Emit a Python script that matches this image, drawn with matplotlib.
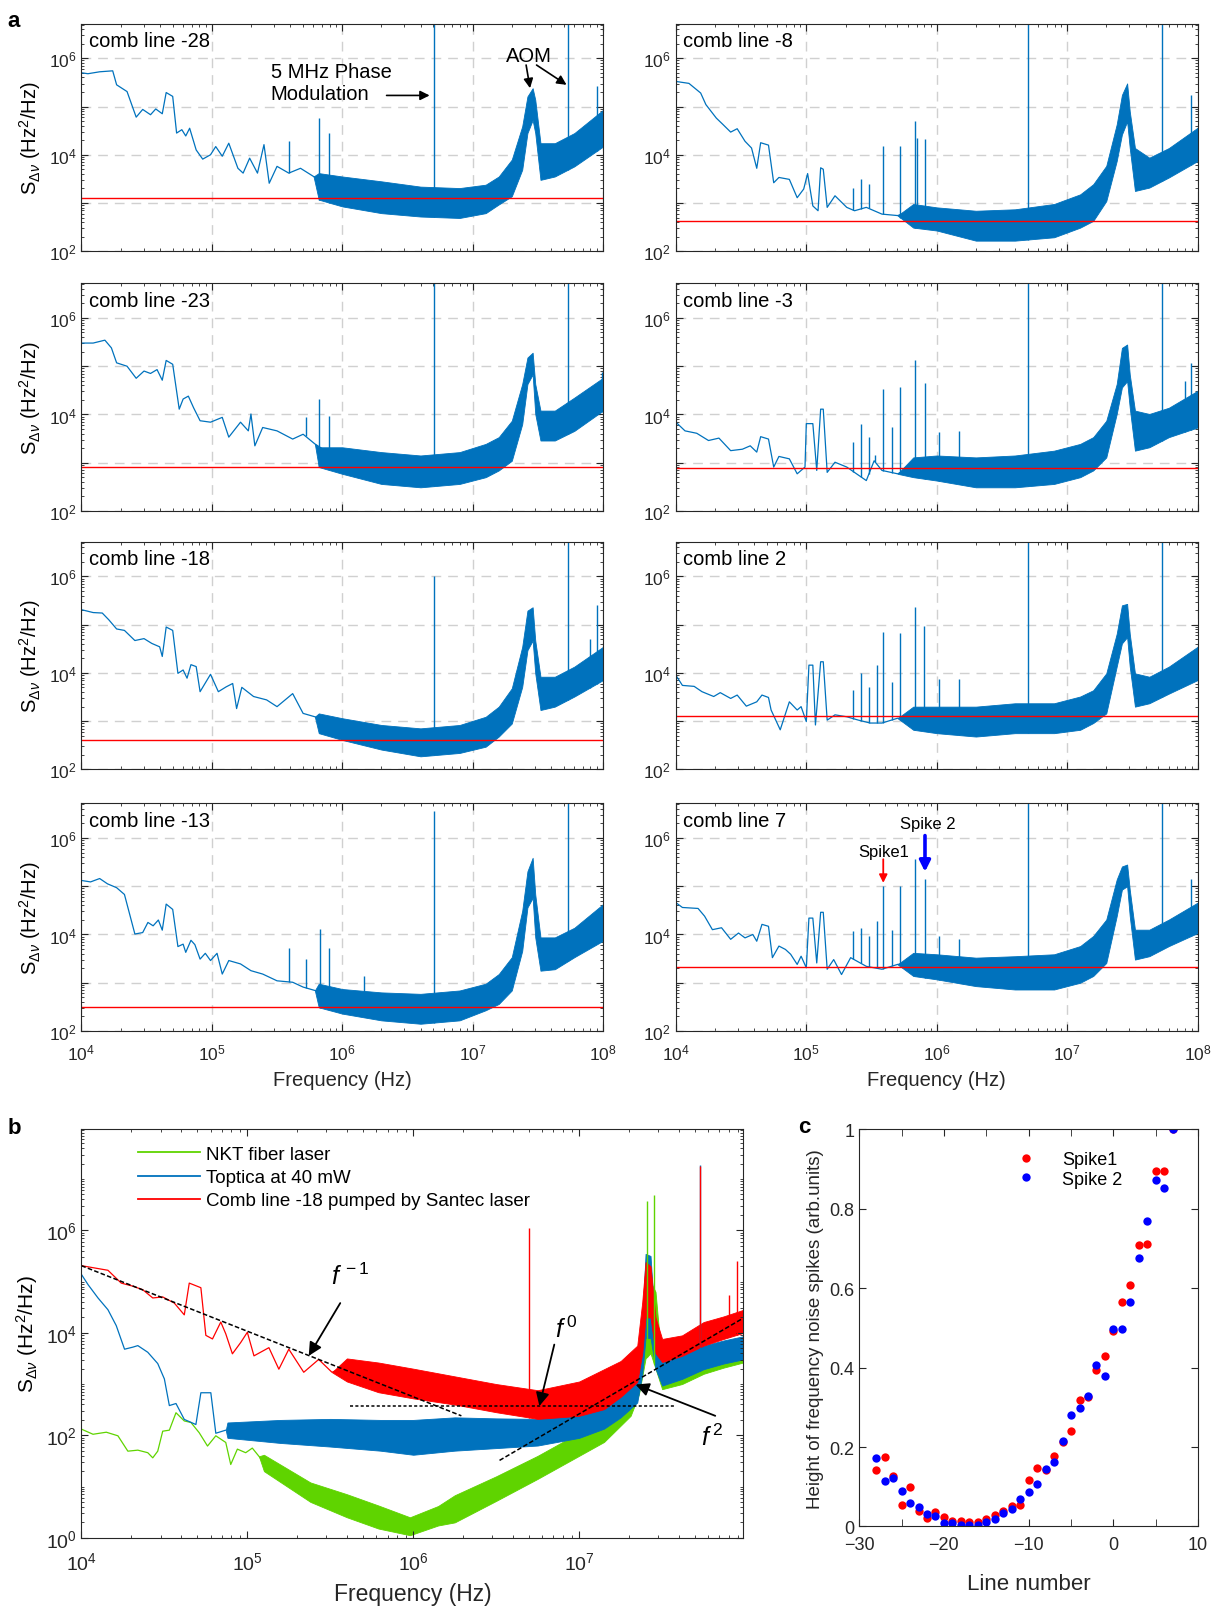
import matplotlib
matplotlib.use('Agg')
import matplotlib.pyplot as plt
import numpy as np
from matplotlib.ticker import LogLocator, FuncFormatter, NullFormatter, FixedLocator, MultipleLocator
from matplotlib.lines import Line2D

plt.rcParams['font.family'] = ['Liberation Sans', 'DejaVu Sans']
plt.rcParams['mathtext.fontset'] = 'custom'
plt.rcParams['mathtext.rm'] = 'Liberation Sans'
plt.rcParams['mathtext.it'] = 'Liberation Sans:italic'
plt.rcParams['mathtext.bf'] = 'Liberation Sans:bold'
plt.rcParams['xtick.direction'] = 'in'
plt.rcParams['ytick.direction'] = 'in'
plt.rcParams['xtick.top'] = True
plt.rcParams['ytick.right'] = True

MBLUE = '#0072BD'
AXCOL = '#262626'

# ---- panel a: all values are log10(frequency) / log10(S) ----
# shared frequency grid for the dense (noise band) part
band_logf = [5.82, 6.0, 6.3, 6.6, 6.9, 7.1, 7.2, 7.3, 7.38, 7.42, 7.46, 7.48, 7.52, 7.63, 7.78, 8.0]

# comb line -28
m28_logf = [4.00, 4.05, 4.14, 4.24, 4.27, 4.35, 4.42, 4.47, 4.53, 4.57, 4.62, 4.65, 4.70, 4.73, 4.77, 4.80, 4.83,
            4.88, 4.93, 4.99, 5.03, 5.08, 5.13, 5.20, 5.24, 5.29, 5.35, 5.40, 5.44, 5.50, 5.59, 5.68, 5.78, 5.84]
m28_logs = [5.70, 5.68, 5.72, 5.74, 5.45, 5.31, 4.78, 4.94, 4.83, 4.95, 4.85, 5.29, 5.21, 4.45, 4.52, 4.39, 4.55,
            4.10, 3.91, 4.00, 4.17, 3.97, 4.24, 3.72, 3.62, 3.93, 3.62, 4.21, 3.41, 3.76, 3.62, 3.72, 3.55, 3.48]
m28_hi = [3.62, 3.55, 3.45, 3.34, 3.31, 3.38, 3.55, 3.90, 4.59, 5.21, 5.38, 5.14, 4.24, 4.24, 4.45, 4.93]
m28_lo = [3.07, 2.93, 2.79, 2.72, 2.69, 2.79, 2.97, 3.14, 3.69, 4.45, 4.72, 4.45, 3.48, 3.55, 3.76, 4.17]
m28_spk_f = [5.59, 5.82, 5.90, 6.70, 7.73, 7.95]
m28_spk_s = [4.28, 4.76, 4.45, 7.0, 7.0, 5.43]
m28_red = 3.10

# comb line -8
m8_logf = [4.00, 4.10, 4.19, 4.23, 4.31, 4.36, 4.42, 4.47, 4.53, 4.58, 4.62, 4.65, 4.71, 4.75, 4.79, 4.87,
           4.93, 4.98, 5.01, 5.05, 5.09, 5.11, 5.13, 5.16, 5.22, 5.31, 5.37, 5.46, 5.58, 5.70, 5.82]
m8_logs = [5.52, 5.48, 5.28, 5.04, 4.76, 4.63, 4.47, 4.54, 4.28, 4.14, 3.72, 4.25, 4.20, 3.42, 3.53, 3.49,
           3.11, 3.29, 3.61, 2.94, 2.84, 3.73, 3.70, 2.91, 3.15, 2.91, 2.84, 2.91, 2.77, 2.74, 2.84]
m8_hi = [2.98, 2.91, 2.84, 2.87, 2.98, 3.18, 3.39, 3.77, 4.63, 5.24, 5.48, 4.90, 4.14, 3.94, 4.14, 4.56]
m8_lo = [2.49, 2.43, 2.22, 2.22, 2.29, 2.49, 2.63, 3.04, 3.87, 4.42, 4.69, 4.14, 3.25, 3.32, 3.53, 3.87]
m8_spk_f = [5.36, 5.42, 5.48, 5.59, 5.72, 5.83, 5.85, 5.91, 6.70, 7.73, 7.95]
m8_spk_s = [3.32, 3.49, 3.40, 4.18, 4.19, 4.71, 4.35, 4.32, 7.0, 7.0, 5.24]
m8_red = 2.62

# comb line -23
m23_logf = [4.00, 4.09, 4.18, 4.23, 4.27, 4.35, 4.42, 4.48, 4.53, 4.58, 4.62, 4.65, 4.70, 4.75, 4.78, 4.82,
            4.86, 4.91, 4.99, 5.08, 5.13, 5.22, 5.28, 5.30, 5.33, 5.39, 5.50, 5.62, 5.70, 5.79, 5.87, 5.96]
m23_logs = [5.48, 5.48, 5.54, 5.38, 5.07, 5.00, 4.75, 4.90, 4.85, 4.93, 4.71, 5.12, 5.04, 4.11, 4.32, 4.38,
            4.14, 3.87, 3.84, 3.94, 3.53, 3.84, 3.66, 4.01, 3.35, 3.73, 3.66, 3.49, 3.59, 3.39, 3.25, 3.04]
m23_hi = [3.32, 3.32, 3.22, 3.15, 3.22, 3.39, 3.53, 3.87, 4.63, 5.18, 5.28, 4.63, 4.08, 4.08, 4.35, 4.76]
m23_lo = [2.91, 2.77, 2.56, 2.49, 2.56, 2.70, 2.84, 3.04, 3.80, 4.63, 4.83, 4.01, 3.46, 3.46, 3.66, 4.08]
m23_spk_f = [5.72, 5.82, 5.90, 6.70, 7.73, 7.99]
m23_spk_s = [3.95, 4.33, 3.97, 7.0, 7.0, 4.87]
m23_red = 2.91

# comb line -3
m3_logf = [4.00, 4.07, 4.16, 4.25, 4.33, 4.42, 4.51, 4.57, 4.62, 4.65, 4.71, 4.75, 4.79, 4.87, 4.93,
           4.99, 5.00, 5.05, 5.08, 5.11, 5.13, 5.16, 5.22, 5.31, 5.46, 5.52, 5.58, 5.70, 5.82]
m3_logs = [3.84, 3.66, 3.61, 3.46, 3.51, 3.25, 3.28, 3.35, 3.22, 3.54, 3.49, 2.91, 3.13, 3.08, 2.77,
           2.91, 3.81, 3.81, 2.84, 4.11, 4.11, 2.80, 3.01, 2.91, 2.63, 3.04, 2.84, 2.77, 2.91]
m3_hi = [3.11, 3.15, 3.11, 3.15, 3.25, 3.39, 3.53, 3.87, 4.63, 5.38, 5.45, 4.83, 4.08, 4.01, 4.14, 4.49]
m3_lo = [2.70, 2.63, 2.49, 2.49, 2.56, 2.70, 2.84, 3.11, 4.01, 4.56, 4.69, 4.14, 3.25, 3.32, 3.53, 3.73]
m3_spk_f = [5.36, 5.42, 5.48, 5.53, 5.59, 5.66, 5.72, 5.83, 5.91, 6.02, 6.17, 6.70, 7.73, 7.90, 7.95]
m3_spk_s = [3.42, 3.80, 3.53, 3.15, 4.52, 3.73, 4.56, 5.12, 4.66, 3.63, 3.66, 7.0, 7.0, 4.69, 5.07]
m3_red = 2.89

# comb line -18
m18_logf = [4.00, 4.09, 4.16, 4.21, 4.27, 4.33, 4.41, 4.48, 4.54, 4.60, 4.62, 4.65, 4.70, 4.74, 4.78, 4.81, 4.84,
            4.88, 4.91, 4.95, 4.99, 5.05, 5.11, 5.16, 5.19, 5.23, 5.32, 5.42, 5.50, 5.62, 5.70, 5.79, 5.87, 5.96]
m18_logs = [5.31, 5.25, 5.24, 5.10, 4.91, 4.88, 4.67, 4.71, 4.61, 4.54, 4.34, 4.95, 4.88, 3.99, 4.06, 3.89, 4.17,
            4.13, 3.61, 3.79, 3.97, 3.61, 3.71, 3.78, 3.26, 3.70, 3.51, 3.44, 3.30, 3.57, 3.16, 3.09, 3.02, 2.92]
m18_hi = [3.16, 3.06, 2.92, 2.85, 2.92, 3.09, 3.30, 3.68, 4.54, 5.29, 5.36, 4.67, 3.92, 3.92, 4.13, 4.54]
m18_lo = [2.75, 2.61, 2.41, 2.27, 2.34, 2.47, 2.68, 2.95, 3.71, 4.47, 4.67, 3.99, 3.23, 3.30, 3.51, 3.85]
m18_spk_f = [6.70, 7.73, 7.90, 7.95]
m18_spk_s = [6.0, 7.0, 4.71, 5.40]
m18_red = 2.60

# comb line 2
p2_logf = [4.00, 4.05, 4.14, 4.20, 4.29, 4.34, 4.42, 4.47, 4.54, 4.62, 4.66, 4.71, 4.73, 4.80, 4.87, 4.93,
           4.96, 5.00, 5.02, 5.05, 5.07, 5.11, 5.13, 5.16, 5.22, 5.31, 5.40, 5.49, 5.58, 5.70, 5.82]
p2_logs = [3.95, 3.74, 3.72, 3.61, 3.51, 3.59, 3.47, 3.54, 3.31, 3.40, 3.54, 3.49, 3.23, 2.82, 3.40, 3.23,
           3.30, 2.99, 4.16, 4.16, 2.92, 4.23, 4.23, 3.02, 3.13, 3.09, 3.02, 2.96, 2.96, 3.06, 3.02]
p2_hi = [3.30, 3.30, 3.30, 3.37, 3.37, 3.51, 3.64, 3.99, 4.81, 5.40, 5.43, 4.81, 3.99, 3.92, 4.13, 4.54]
p2_lo = [2.82, 2.75, 2.68, 2.75, 2.75, 2.82, 2.96, 3.16, 4.13, 4.61, 4.74, 4.13, 3.30, 3.37, 3.57, 3.85]
p2_spk_f = [5.36, 5.42, 5.48, 5.54, 5.59, 5.66, 5.72, 5.83, 5.90, 6.02, 6.17, 6.70, 7.73]
p2_spk_s = [3.64, 4.00, 3.71, 4.16, 4.85, 3.81, 4.82, 5.37, 4.98, 3.88, 3.88, 7.0, 7.0]
p2_red = 3.11

# comb line -13
m13_logf = [4.00, 4.07, 4.14, 4.20, 4.27, 4.33, 4.37, 4.41, 4.47, 4.51, 4.55, 4.59, 4.62, 4.65, 4.70, 4.74, 4.78,
            4.80, 4.84, 4.87, 4.91, 4.95, 4.99, 5.04, 5.08, 5.13, 5.22, 5.30, 5.39, 5.50, 5.62, 5.70, 5.79, 5.87]
m13_logs = [5.12, 5.09, 5.16, 5.05, 4.97, 4.83, 4.42, 4.01, 4.04, 4.25, 4.18, 4.30, 4.09, 4.63, 4.52, 3.75, 3.80,
            3.63, 3.88, 3.79, 3.49, 3.61, 3.46, 3.61, 3.18, 3.46, 3.39, 3.25, 3.18, 3.04, 3.01, 2.91, 2.84, 2.77]
m13_hi = [2.98, 2.87, 2.80, 2.77, 2.84, 2.98, 3.18, 3.53, 4.49, 5.31, 5.59, 4.83, 3.94, 3.94, 4.14, 4.63]
m13_lo = [2.49, 2.36, 2.22, 2.15, 2.22, 2.43, 2.56, 2.84, 3.66, 4.56, 4.76, 3.94, 3.25, 3.28, 3.53, 3.87]
m13_spk_f = [5.59, 5.72, 5.83, 5.90, 6.17, 6.70, 7.73]
m13_spk_s = [3.72, 3.49, 4.11, 3.72, 3.15, 6.56, 7.0]
m13_red = 2.49

# comb line 7
p7_logf = [4.00, 4.05, 4.17, 4.22, 4.28, 4.35, 4.42, 4.48, 4.53, 4.59, 4.62, 4.66, 4.71, 4.74, 4.79, 4.84, 4.88,
           4.93, 4.96, 5.00, 5.02, 5.05, 5.08, 5.11, 5.13, 5.16, 5.21, 5.27, 5.34, 5.46, 5.58, 5.70, 5.82]
p7_logs = [4.66, 4.56, 4.54, 4.38, 4.10, 4.14, 3.90, 4.03, 3.93, 4.00, 3.86, 4.21, 4.17, 3.52, 3.76, 3.69, 3.59,
           3.38, 3.55, 3.31, 4.34, 4.34, 3.41, 4.46, 4.46, 3.28, 3.48, 3.17, 3.52, 3.34, 3.28, 3.38, 3.41]
p7_hi = [3.62, 3.59, 3.52, 3.55, 3.59, 3.76, 3.97, 4.31, 5.14, 5.41, 5.45, 4.93, 4.10, 4.10, 4.31, 4.66]
p7_lo = [3.14, 3.07, 2.93, 2.86, 2.86, 3.00, 3.14, 3.41, 4.38, 4.93, 5.00, 4.38, 3.48, 3.55, 3.76, 4.03]
p7_spk_f = [5.36, 5.42, 5.48, 5.54, 5.59, 5.66, 5.72, 5.83, 5.91, 6.02, 6.17, 6.70, 7.73, 7.95]
p7_spk_s = [4.07, 4.14, 3.97, 4.29, 5.00, 4.10, 5.01, 5.57, 5.15, 3.97, 3.90, 7.0, 7.0, 5.15]
p7_red = 3.32

# ---- panel b ----
green_logf = [4.00, 4.07, 4.15, 4.22, 4.28, 4.34, 4.40, 4.43, 4.46, 4.49, 4.53, 4.57, 4.62, 4.66, 4.71,
              4.76, 4.81, 4.87, 4.90, 4.94, 4.99, 5.03, 5.07, 5.10]
green_logs = [2.12, 2.02, 2.06, 1.99, 1.69, 1.71, 1.66, 1.56, 1.69, 2.08, 2.10, 2.44, 2.28, 2.25, 2.05,
              1.79, 1.99, 1.86, 1.43, 1.73, 1.66, 1.75, 1.59, 1.46]
green_band_f = [5.10, 5.38, 5.6, 5.79, 5.98, 6.15, 6.25, 6.5, 6.75, 7.0, 7.15, 7.31, 7.36, 7.40, 7.43,
                7.46, 7.50, 7.62, 7.75, 7.87, 8.0]
green_hi = [1.62, 1.08, 0.85, 0.63, 0.40, 0.62, 0.83, 1.20, 1.60, 2.05, 2.32, 2.71, 3.6, 5.2, 5.0,
            4.8, 3.35, 3.3, 3.5, 3.62, 3.75]
green_lo = [1.30, 0.70, 0.40, 0.18, 0.05, 0.24, 0.30, 0.72, 1.15, 1.60, 1.87, 2.38, 2.8, 3.5, 3.6,
            3.3, 2.90, 3.0, 3.2, 3.32, 3.43]
green_spk_f = [7.41, 7.45]
green_spk_s = [6.58, 6.69]

blue_logf = [4.00, 4.04, 4.10, 4.16, 4.21, 4.26, 4.31, 4.34, 4.40, 4.46, 4.50, 4.53, 4.57, 4.62, 4.69, 4.72,
             4.78, 4.81, 4.87]
blue_logs = [5.14, 4.94, 4.68, 4.45, 4.14, 3.68, 3.72, 3.75, 3.62, 3.40, 3.10, 2.58, 2.62, 2.31, 2.21, 2.83,
             2.83, 2.04, 2.10]
blue_band_f = [4.88, 5.2, 5.5, 5.8, 6.0, 6.25, 6.5, 6.75, 7.0, 7.15, 7.25, 7.35, 7.38, 7.40, 7.43,
               7.46, 7.50, 7.62, 7.75, 7.87, 8.0]
blue_hi = [2.25, 2.30, 2.32, 2.30, 2.30, 2.35, 2.33, 2.32, 2.45, 2.64, 2.85, 3.10, 4.2, 5.54, 5.5,
           4.0, 3.43, 3.55, 3.75, 3.85, 3.94]
blue_lo = [1.95, 1.85, 1.78, 1.70, 1.62, 1.70, 1.75, 1.80, 1.95, 2.13, 2.35, 2.64, 3.2, 3.9, 3.9,
           3.3, 2.97, 3.10, 3.29, 3.40, 3.49]
blue_spk_f = [7.73]
blue_spk_s = [7.28]

red_logf = [4.00, 4.16, 4.24, 4.31, 4.37, 4.43, 4.49, 4.56, 4.62, 4.65, 4.72, 4.75, 4.79, 4.84, 4.87,
            4.91, 4.96, 5.00, 5.04, 5.13, 5.19, 5.25, 5.34, 5.43, 5.51, 5.60]
red_logs = [5.31, 5.22, 4.97, 4.91, 4.84, 4.68, 4.70, 4.58, 4.35, 4.97, 4.88, 3.95, 3.88, 4.21, 3.98,
            3.59, 3.81, 4.01, 3.55, 3.71, 3.29, 3.68, 3.23, 3.48, 3.23, 3.35]
red_band_f = [5.60, 5.79, 6.0, 6.25, 6.5, 6.75, 7.0, 7.15, 7.25, 7.35, 7.38, 7.40, 7.43, 7.46, 7.50,
              7.62, 7.75, 7.87, 8.0]
red_hi = [3.50, 3.42, 3.30, 3.15, 3.0, 2.88, 3.05, 3.29, 3.45, 3.75, 4.6, 5.38, 5.3, 4.3, 3.88,
          3.95, 4.21, 4.32, 4.46]
red_lo = [3.05, 2.84, 2.72, 2.60, 2.45, 2.32, 2.38, 2.51, 2.75, 3.04, 3.6, 4.3, 4.3, 3.6, 3.43,
          3.55, 3.75, 3.88, 4.01]
red_spk_f = [6.70, 7.73, 7.90, 7.95]
red_spk_s = [6.04, 7.26, 4.73, 5.41]

fm1_logf, fm1_logs = [4.0, 6.29], [5.31, 2.38]
f0_logf, f0_logs = [5.62, 7.57], [2.57, 2.57]
f2_logf, f2_logs = [6.52, 7.98], [1.51, 4.27]

# ---- panel c ----
line_number = list(range(-28, 8))
spike1 = [0.143, 0.174, 0.128, 0.053, 0.100, 0.040, 0.022, 0.036, 0.024, 0.013, 0.015, 0.010, 0.010, 0.019,
          0.029, 0.039, 0.052, 0.053, 0.117, 0.146, 0.141, 0.178, 0.213, 0.241, 0.318, 0.325, 0.393, 0.430,
          0.492, 0.565, 0.608, 0.708, 0.711, 0.894, 0.894, 1.0]
spike2 = [0.172, 0.114, 0.122, 0.089, 0.059, 0.049, 0.032, 0.027, 0.008, 0.008, 0.003, 0.004, 0.004, 0.012,
          0.019, 0.033, 0.045, 0.070, 0.087, 0.107, 0.144, 0.163, 0.215, 0.281, 0.298, 0.328, 0.406, 0.378,
          0.497, 0.498, 0.565, 0.677, 0.770, 0.873, 0.853, 1.0]


def p10(v):
    return np.power(10.0, np.asarray(v, dtype=float))


def even_dec(v, pos):
    e = int(round(np.log10(v)))
    return r'$\mathregular{10^{%d}}$' % e if e % 2 == 0 else ''


def style_axes(ax):
    for s in ax.spines.values():
        s.set_color(AXCOL)
        s.set_linewidth(0.8)
    ax.tick_params(which='both', colors=AXCOL)
    ax.tick_params(which='major', length=5)
    ax.tick_params(which='minor', length=2.5)


def spectrum_line(ax, lf, ls, bf, hi, lo, spf, sps, color, lw=0.9):
    lf, ls = np.asarray(lf), np.asarray(ls)
    bf, hi, lo = np.asarray(bf), np.asarray(hi), np.asarray(lo)
    # let the noise band grow out of the last thin-trace point before it
    before = lf < bf[0]
    if before.any():
        k = np.where(before)[0][-1]
        bf = np.r_[lf[k], bf]
        hi = np.r_[ls[k], hi]
        lo = np.r_[ls[k], lo]
    ax.fill_between(p10(bf), p10(lo), p10(hi), color=color, lw=0.6, edgecolor=color)
    ax.plot(p10(lf), p10(ls), color=color, lw=lw)
    spf = np.asarray(spf)
    base = np.where(spf < bf[0], np.interp(spf, lf, ls), np.interp(spf, bf, lo))
    ax.vlines(p10(spf), p10(base), p10(sps), color=color, lw=1.0)


fig = plt.figure(figsize=(12.26, 16.15), dpi=100)

left_x, right_x = 0.0664, 0.5513
row_b = [0.8438, 0.683, 0.523, 0.361]
aw, ah = 0.4255, 0.141

panels = [
    (left_x, 0, 'comb line -28', m28_logf, m28_logs, m28_hi, m28_lo, m28_spk_f, m28_spk_s, m28_red),
    (right_x, 0, 'comb line -8', m8_logf, m8_logs, m8_hi, m8_lo, m8_spk_f, m8_spk_s, m8_red),
    (left_x, 1, 'comb line -23', m23_logf, m23_logs, m23_hi, m23_lo, m23_spk_f, m23_spk_s, m23_red),
    (right_x, 1, 'comb line -3', m3_logf, m3_logs, m3_hi, m3_lo, m3_spk_f, m3_spk_s, m3_red),
    (left_x, 2, 'comb line -18', m18_logf, m18_logs, m18_hi, m18_lo, m18_spk_f, m18_spk_s, m18_red),
    (right_x, 2, 'comb line 2', p2_logf, p2_logs, p2_hi, p2_lo, p2_spk_f, p2_spk_s, p2_red),
    (left_x, 3, 'comb line -13', m13_logf, m13_logs, m13_hi, m13_lo, m13_spk_f, m13_spk_s, m13_red),
    (right_x, 3, 'comb line 7', p7_logf, p7_logs, p7_hi, p7_lo, p7_spk_f, p7_spk_s, p7_red),
]

axs = {}
for x0, row, name, lf, ls, hi, lo, spf, sps, red in panels:
    ax = fig.add_axes([x0, row_b[row], aw, ah])
    ax.set_xscale('log')
    ax.set_yscale('log')
    spectrum_line(ax, lf, ls, band_logf, hi, lo, spf, sps, MBLUE)
    ax.axhline(p10(red), color='red', lw=1.0)
    ax.set_xlim(1e4, 1e8)
    ax.set_ylim(1e2, p10(6.72))
    ax.xaxis.set_major_locator(FixedLocator([1e4, 1e5, 1e6, 1e7, 1e8]))
    ax.xaxis.set_minor_locator(LogLocator(base=10, subs=np.arange(2, 10), numticks=20))
    ax.yaxis.set_major_locator(FixedLocator([1e2, 1e3, 1e4, 1e5, 1e6]))
    ax.yaxis.set_minor_locator(LogLocator(base=10, subs=np.arange(2, 10), numticks=20))
    ax.yaxis.set_major_formatter(FuncFormatter(even_dec))
    ax.yaxis.set_minor_formatter(NullFormatter())
    ax.xaxis.set_minor_formatter(NullFormatter())
    ax.grid(True, which='major', ls=(0, (7, 5)), color='#d0d0d0', lw=1.0)
    ax.set_axisbelow(True)
    style_axes(ax)
    ax.tick_params(labelsize=12.5)
    ax.tick_params(axis='x', pad=8)
    if row < 3:
        ax.tick_params(labelbottom=False)
    else:
        ax.set_xlabel('Frequency (Hz)', fontsize=14.5, color=AXCOL, labelpad=6)
    if x0 == left_x:
        ax.set_ylabel(r'S$_{\Delta\nu}$ (Hz$^2$/Hz)', fontsize=14.5, color='k', labelpad=4)
    ax.text(0.014, 0.925, name, transform=ax.transAxes, fontsize=14.5, va='center', ha='left')
    axs[name] = ax

# annotations in comb line -28
ax = axs['comb line -28']
arr = dict(arrowstyle='-|>', color='k', lw=1.2, mutation_scale=14, shrinkA=0, shrinkB=0)
ax.text(p10(5.45), p10(5.5), '5 MHz Phase\nModulation', fontsize=14.5, ha='left', va='center', linespacing=1.25)
ax.annotate('', xy=(p10(6.67), p10(5.23)), xytext=(p10(6.34), p10(5.23)), arrowprops=arr)
ax.text(p10(7.43), p10(6.05), 'AOM', fontsize=14.5, ha='center', va='center')
ax.annotate('', xy=(p10(7.44), p10(5.38)), xytext=(p10(7.41), p10(5.86)), arrowprops=arr)
ax.annotate('', xy=(p10(7.72), p10(5.45)), xytext=(p10(7.49), p10(5.86)), arrowprops=arr)

# annotations in comb line 7
ax = axs['comb line 7']
ax.text(p10(5.59), p10(5.72), 'Spike1', fontsize=12, ha='center', va='center')
ax.annotate('', xy=(p10(5.59), p10(5.07)), xytext=(p10(5.59), p10(5.56)),
            arrowprops=dict(arrowstyle='-|>', color='red', lw=1.3, mutation_scale=12, shrinkA=0, shrinkB=0))
ax.text(p10(5.93), p10(6.30), 'Spike 2', fontsize=12, ha='center', va='center')
ax.annotate('', xy=(p10(5.91), p10(5.30)), xytext=(p10(5.91), p10(6.05)),
            arrowprops=dict(arrowstyle='-|>', color='blue', lw=2.6, mutation_scale=16, shrinkA=0, shrinkB=0))

# ---- panel b ----
axb = fig.add_axes([0.0664, 0.0472, 0.540, 0.2532])
axb.set_xscale('log')
axb.set_yscale('log')
spectrum_line(axb, green_logf, green_logs, green_band_f, green_hi, green_lo, green_spk_f, green_spk_s, '#5fd400')
spectrum_line(axb, blue_logf, blue_logs, blue_band_f, blue_hi, blue_lo, blue_spk_f, blue_spk_s, MBLUE)
spectrum_line(axb, red_logf, red_logs, red_band_f, red_hi, red_lo, red_spk_f, red_spk_s, 'red')
axb.plot(p10(fm1_logf), p10(fm1_logs), color='k', ls=(0, (3, 1.5)), lw=1.1)
axb.plot(p10(f0_logf), p10(f0_logs), color='k', ls=(0, (2, 1.5)), lw=1.1)
axb.plot(p10(f2_logf), p10(f2_logs), color='k', ls=(0, (3, 1.5)), lw=1.1)
axb.set_xlim(1e4, p10(7.99))
axb.set_ylim(1, p10(7.98))
axb.xaxis.set_major_locator(FixedLocator([1e4, 1e5, 1e6, 1e7]))
axb.xaxis.set_minor_locator(LogLocator(base=10, subs=np.arange(2, 10), numticks=20))
axb.xaxis.set_minor_formatter(NullFormatter())
axb.yaxis.set_major_locator(FixedLocator([1, 1e2, 1e4, 1e6]))
axb.yaxis.set_minor_locator(LogLocator(base=10, subs=np.arange(1, 10), numticks=20))
axb.yaxis.set_minor_formatter(NullFormatter())
style_axes(axb)
axb.tick_params(labelsize=14)
axb.tick_params(axis='x', pad=10)
axb.set_xlabel('Frequency (Hz)', fontsize=16.5, color=AXCOL, labelpad=6)
axb.set_ylabel(r'S$_{\Delta\nu}$ (Hz$^2$/Hz)', fontsize=15, labelpad=4)

hb = [Line2D([], [], color='#5fd400', lw=1.3), Line2D([], [], color=MBLUE, lw=1.3), Line2D([], [], color='red', lw=1.3)]
axb.legend(hb, ['NKT fiber laser', 'Toptica at 40 mW', 'Comb line -18 pumped by Santec laser'],
           loc='upper left', bbox_to_anchor=(0.06, 1.0), frameon=False, fontsize=13.5,
           handlelength=3.3, handletextpad=0.3, labelspacing=0.33)

arrb = dict(arrowstyle='-|>', color='k', lw=1.3, mutation_scale=20, shrinkA=0, shrinkB=0)
axb.text(p10(5.62), p10(5.12), r'$f^{\,-1}$', fontsize=18, ha='center', va='center')
axb.annotate('', xy=(p10(5.37), p10(3.55)), xytext=(p10(5.56), p10(4.58)), arrowprops=arrb)
axb.text(p10(6.92), p10(4.08), r'$f^{\,0}$', fontsize=18, ha='center', va='center')
axb.annotate('', xy=(p10(6.76), p10(2.57)), xytext=(p10(6.85), p10(3.77)), arrowprops=arrb)
axb.text(p10(7.80), p10(1.98), r'$f^{\,2}$', fontsize=18, ha='center', va='center')
axb.annotate('', xy=(p10(7.34), p10(2.99)), xytext=(p10(7.82), p10(2.38)), arrowprops=arrb)

# ---- panel c ----
axc = fig.add_axes([0.7008, 0.0542, 0.2765, 0.246])
axc.plot(line_number, spike1, 'o', color='red', ms=6, mec='none', label='Spike1')
axc.plot(line_number, spike2, 'o', color='blue', ms=6, mec='none', label='Spike 2')
axc.set_xlim(-30, 10)
axc.set_ylim(0, 1)
axc.xaxis.set_major_locator(MultipleLocator(10))
axc.xaxis.set_minor_locator(MultipleLocator(5))
axc.yaxis.set_major_locator(MultipleLocator(0.2))
axc.yaxis.set_major_formatter(FuncFormatter(lambda v, p: '%g' % round(v, 2)))
style_axes(axc)
axc.tick_params(which='minor', length=5)
axc.tick_params(labelsize=13)
axc.tick_params(axis='x', pad=7)
axc.set_xlabel('Line number', fontsize=16, color=AXCOL, labelpad=14)
axc.set_ylabel('Height of frequency noise spikes (arb.units)', fontsize=13.5, color=AXCOL)
axc.legend(loc='upper left', bbox_to_anchor=(0.39, 0.985), frameon=False, fontsize=13,
           handlelength=2.0, handletextpad=1.0, labelspacing=0.12)

# panel letters
fig.text(0.006, 0.993, 'a', fontsize=16, fontweight='bold', va='top')
fig.text(0.006, 0.3075, 'b', fontsize=16, fontweight='bold', va='top')
fig.text(0.651, 0.3085, 'c', fontsize=16, fontweight='bold', va='top')

fig.savefig('out.png', dpi=100)
